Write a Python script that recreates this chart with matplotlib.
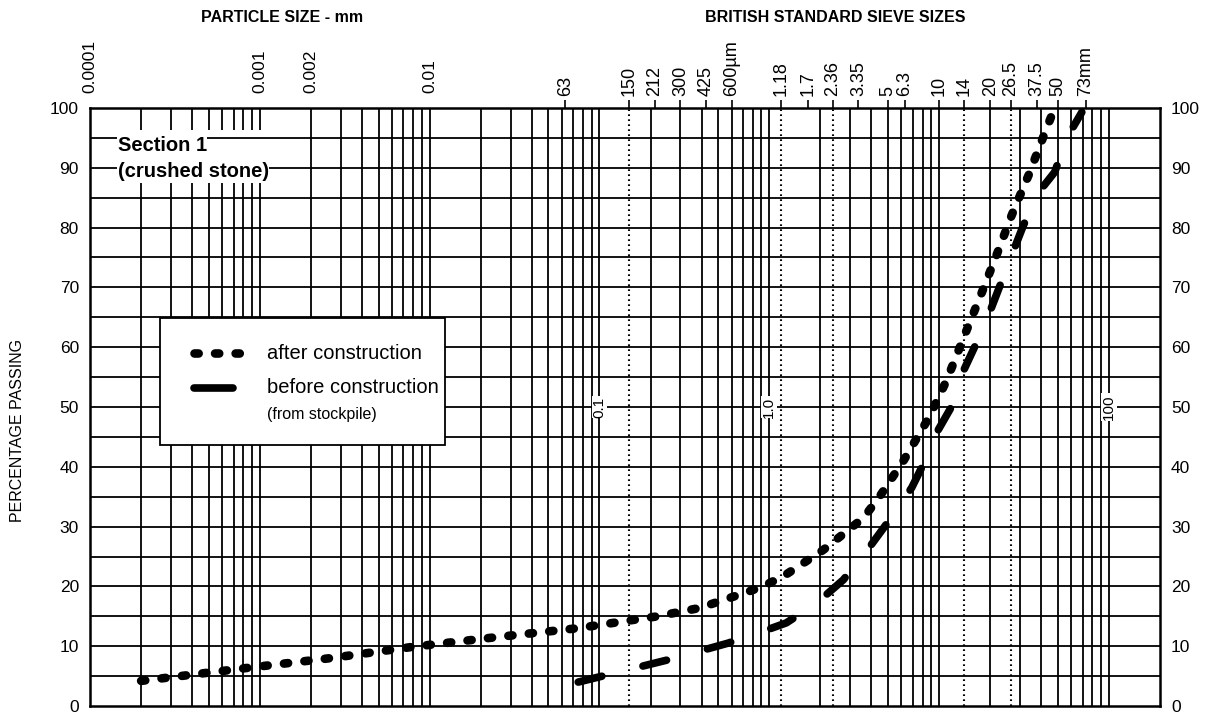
import numpy as np
import matplotlib
matplotlib.use('Agg')
import matplotlib.pyplot as plt
from matplotlib.patches import Rectangle

plt.rcParams['font.family'] = ['Liberation Sans', 'DejaVu Sans']
plt.rcParams['lines.scale_dashes'] = False

# particle size (mm) and percentage passing
after_size = [0.0002, 0.00086, 0.0026, 0.008, 0.0245, 0.074, 0.22, 0.39, 0.68, 0.9,
              1.21, 1.59, 2.08, 2.77, 3.6, 4.46, 6.2, 8.7, 11.1, 14.0, 17.6, 21.8,
              26.8, 33.7, 41.9, 46.1]
after_pass = [4.2, 6.4, 8.0, 9.9, 11.5, 13.0, 15.0, 16.4, 18.7, 19.9,
              21.7, 23.9, 26.1, 28.9, 31.5, 35.0, 41.1, 48.2, 54.5, 61.7, 68.7, 75.4,
              82.1, 88.8, 95.8, 98.8]

before_size = [0.075, 0.26, 0.57, 0.86, 1.26, 1.9, 2.73, 3.9, 5.1, 6.9, 8.2, 9.9, 12.2,
               14.0, 16.6, 19.9, 26.8, 31.1, 37.6, 48.0, 56.5, 69.3]
before_pass = [4.0, 7.8, 10.5, 12.2, 13.9, 17.2, 21.1, 26.6, 31.1, 36.5, 40.8, 46.2, 50.7,
               56.2, 60.7, 65.9, 75.4, 80.1, 85.5, 89.3, 95.0, 99.3]

sieve_mm = [0.063, 0.15, 0.212, 0.3, 0.425, 0.6, 1.18, 1.7, 2.36, 3.35, 5, 6.3,
            10, 14, 20, 26.5, 37.5, 50, 73]
sieve_lbl = ['63', '150', '212', '300', '425', '600µm', '1.18', '1.7', '2.36', '3.35',
             '5', '6.3', '10', '14', '20', '26.5', '37.5', '50', '73mm']
dotted_sieves = [0.15, 1.18, 2.36, 14, 26.5]
particle_mm = [0.0001, 0.001, 0.002, 0.01]
particle_lbl = ['0.0001', '0.001', '0.002', '0.01']
inner_mm = [0.1, 1.0, 100]
inner_lbl = ['0.1', '1.0', '100']

fig = plt.figure(figsize=(12.05, 7.13), dpi=100)
ax = fig.add_axes([90/1205, 7/713, 1070/1205, 598/713])
ax.set_xscale('log')
ax.set_xlim(1e-4, 200)
ax.set_ylim(0, 100)

# grid: log lines per decade, dotted at some sieve sizes
for dec in range(-4, 2 + 1):
    for m in range(1, 10):
        v = m * 10.0**dec
        if v <= 1e-4 or v > 100:
            continue
        if any(abs(v - d) / d < 1e-6 for d in dotted_sieves):
            continue
        ax.axvline(v, color='black', lw=1.3, zorder=1)
for d in dotted_sieves:
    ax.axvline(d, color='black', lw=1.5, ls=(0, (1.2, 2.4)), zorder=1)

# white patch behind the section title
ax.add_patch(Rectangle((0, 0.875), 0.176, 0.088, transform=ax.transAxes,
                       facecolor='white', edgecolor='none', zorder=2))
for p in range(5, 100, 5):
    ax.axhline(p, color='black', lw=1.3, zorder=3)

for s in ax.spines.values():
    s.set_linewidth(1.8)
    s.set_zorder(6)

# curves
ax.plot(after_size, after_pass, color='black', lw=6.2, ls=(0, (3, 11.8)),
        dash_capstyle='round', zorder=5)
ax.plot(before_size, before_pass, color='black', lw=5.5, ls=(0, (17.5, 30.5)),
        dash_capstyle='round', zorder=5)

# y ticks both sides
ax.set_yticks(range(0, 101, 10))
ax.tick_params(axis='y', length=0, labelsize=12.5, pad=8,
               left=True, right=True, labelleft=True, labelright=True)

# top ticks = sieve sizes
ax.xaxis.set_ticks_position('top')
ax.set_xticks(sieve_mm)
ax.set_xticklabels(sieve_lbl, rotation=90, fontsize=13)
ax.xaxis.set_minor_locator(matplotlib.ticker.NullLocator())
ax.tick_params(axis='x', direction='out', length=6, width=1.2, pad=3)

for v, t in zip(particle_mm, particle_lbl):
    ax.annotate(t, xy=(v, 1), xycoords=('data', 'axes fraction'),
                xytext=(0, 11), textcoords='offset points',
                rotation=90, ha='center', va='bottom', fontsize=12.5)

for v, t in zip(inner_mm, inner_lbl):
    ax.text(v, 50, t, rotation=90, ha='center', va='center', fontsize=11,
            bbox=dict(facecolor='white', edgecolor='none', pad=0.5), zorder=4)

# section title
ax.text(0.026, 0.937, 'Section 1', transform=ax.transAxes, fontsize=14.5,
        fontweight='bold', va='center', ha='left', zorder=4,
        bbox=dict(facecolor='white', edgecolor='none', pad=0.3))
ax.text(0.026, 0.893, '(crushed stone)', transform=ax.transAxes, fontsize=14.5,
        fontweight='bold', va='center', ha='left', zorder=4,
        bbox=dict(facecolor='white', edgecolor='none', pad=0.3))

# legend box
ax.add_patch(Rectangle((0.0654, 0.436), 0.2664, 0.213, transform=ax.transAxes,
                       facecolor='white', edgecolor='black', lw=1.3, zorder=7))
ax.plot([0.097, 0.147], [0.590, 0.590], transform=ax.transAxes, color='black',
        lw=6.2, ls=(0, (3, 11.8)), dash_capstyle='round', zorder=8)
ax.plot([0.097, 0.134], [0.532, 0.532], transform=ax.transAxes, color='black',
        lw=5.5, solid_capstyle='round', zorder=8)
ax.text(0.1654, 0.590, 'after construction', transform=ax.transAxes, fontsize=14.5,
        va='center', ha='left', zorder=8)
ax.text(0.1654, 0.532, 'before construction', transform=ax.transAxes, fontsize=14.5,
        va='center', ha='left', zorder=8)
ax.text(0.1654, 0.487, '(from stockpile)', transform=ax.transAxes, fontsize=11.5,
        va='center', ha='left', zorder=8)

fig.text(282/1205, 1 - 18/713, 'PARTICLE SIZE - mm', ha='center', va='center',
         fontsize=11.5, fontweight='bold')
fig.text(835/1205, 1 - 18/713, 'BRITISH STANDARD SIEVE SIZES', ha='center', va='center',
         fontsize=11.5, fontweight='bold')
fig.text(18/1205, 1 - 430/713, 'PERCENTAGE PASSING', rotation=90, ha='center',
         va='center', fontsize=11.5)

fig.savefig('out.png', dpi=100)
